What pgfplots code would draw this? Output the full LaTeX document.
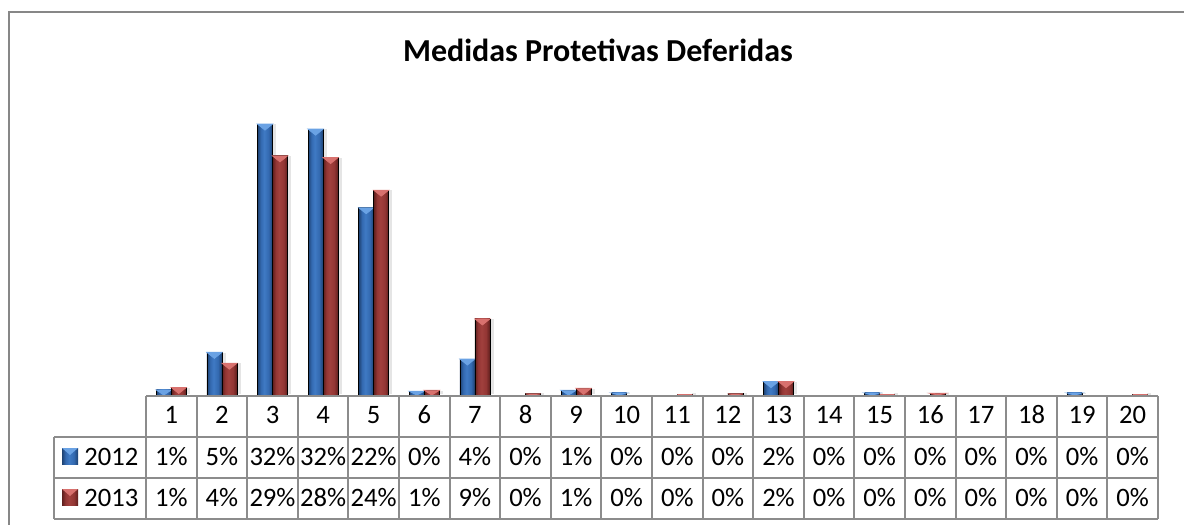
\documentclass[border=0pt]{standalone}
\usepackage{fontspec}
\setmainfont{Carlito}
\usepackage{pgfplots}
\usepackage{pgfplotstable}
\pgfplotsset{compat=1.18}

\definecolor{bdark}{HTML}{1E4272}
\definecolor{bmid}{HTML}{3369B0}
\definecolor{blite}{HTML}{3F7AC4}
\definecolor{btri}{HTML}{6AA2E4}
\definecolor{rdark}{HTML}{5E1F1D}
\definecolor{rmid}{HTML}{933634}
\definecolor{rlite}{HTML}{A1403D}
\definecolor{rtri}{HTML}{D8716E}
\definecolor{gridgray}{HTML}{8C8C8C}
\definecolor{framegray}{HTML}{878787}

\pgfdeclarehorizontalshading{bluebar}{100bp}{color(0bp)=(bdark); color(25bp)=(bdark); color(36bp)=(bmid); color(47bp)=(blite); color(62bp)=(bmid); color(75bp)=(bdark); color(100bp)=(bdark)}
\pgfdeclarehorizontalshading{redbar}{100bp}{color(0bp)=(rdark); color(25bp)=(rdark); color(36bp)=(rmid); color(47bp)=(rlite); color(62bp)=(rmid); color(75bp)=(rdark); color(100bp)=(rdark)}

\pgfplotstableread{
x  a     b
1  0.6   0.9
2  5.1   3.8
3  32.4  28.6
4  31.8  28.4
5  22.4  24.5
6  0.45  0.56
7  4.3   9.1
8  0     0.15
9  0.56  0.8
10 0.24  0
11 0     0.05
12 0     0.15
13 1.6   1.6
14 0     0
15 0.24  0.05
16 0     0.2
17 0     0
18 0     0
19 0.24  0
20 0     0.05
}\datatable

% draws one shaded bar (pt units) below the current data point
% #1 shading, #2 triangle colour, #3 left offset, #4 right offset
\newcommand\drawbar[4]{%
  \pgfmathsetmacro\h{\ry*4.180556}%
  \ifdim\h pt>0.05pt
    \pgfmathsetmacro\th{min(3,\h)}%
    \fill[black!10] ({#4},-0.3pt) rectangle ({#4+1.5pt},-\h pt+1pt);
    \shade[shading=#1] (#3,0pt) rectangle (#4,-\h pt);
    \fill[#2] (#3,0pt) -- (#4,0pt) -- ({(#3+#4)/2},-\th pt) -- cycle;
  \fi}

\begin{document}
\begin{tikzpicture}
\begin{scope}[x=0.5pt,y=-0.5pt]
\useasboundingbox (0,0) rectangle (1184,525);
\fill[white] (0,0) rectangle (1184,525);
\draw[framegray,line width=1pt] (8.5,525) -- (8.5,11.5) -- (1184,11.5);
\node[anchor=base,font=\fontsize{16}{19}\selectfont\bfseries] at (598,61) {Medidas Protetivas Deferidas};
\end{scope}

\begin{axis}[
  at={(73pt,-197.5pt)}, anchor=south west,
  scale only axis, width=506pt, height=150.5pt,
  xmin=0.5, xmax=20.5, ymin=0, ymax=36,
  hide axis, clip=false,
]
\addplot[scatter, only marks, mark=*, mark size=0pt, point meta=y,
  visualization depends on={rawy \as \ry},
  scatter/@pre marker code/.code={\drawbar{bluebar}{btri}{-7.5pt}{0pt}},
  scatter/@post marker code/.code={}]
  table[x=x,y=a] {\datatable};
\addplot[scatter, only marks, mark=*, mark size=0pt, point meta=y,
  visualization depends on={rawy \as \ry},
  scatter/@pre marker code/.code={\drawbar{redbar}{rtri}{0pt}{7.5pt}},
  scatter/@post marker code/.code={}]
  table[x=x,y=b] {\datatable};
\end{axis}

\begin{scope}[x=0.5pt,y=-0.5pt,font=\fontsize{13.3}{15}\selectfont]
% grid
\draw[gridgray,line width=1pt] (146,396) -- (1158,396);
\draw[gridgray,line width=1pt] (54,437) -- (1158,437);
\draw[gridgray,line width=1pt] (54,478) -- (1158,478);
\draw[gridgray,line width=1pt] (54,519) -- (1158,519);
\draw[gridgray,line width=1pt] (54,437) -- (54,519);
\foreach \i in {0,...,20} \draw[gridgray,line width=1pt] (146+\i*50.6,396) -- (146+\i*50.6,519);
% header
\foreach \i in {1,...,20} \node[anchor=base,inner sep=0pt] at (146+\i*50.6-25.3,423) {\i};
% row labels
\shade[shading=bluebar] (62,448) rectangle (78,464);
\fill[btri] (62,448) -- (78,448) -- (70,455) -- cycle;
\node[anchor=base west,inner sep=0pt] at (84,465) {2012};
\shade[shading=redbar] (62,489) rectangle (78,505);
\fill[rtri] (62,489) -- (78,489) -- (70,496) -- cycle;
\node[anchor=base west,inner sep=0pt] at (84,506) {2013};
% values
\foreach \v [count=\i] in {1,5,32,32,22,0,4,0,1,0,0,0,2,0,0,0,0,0,0,0}
  \node[anchor=base,inner sep=0pt] at (146+\i*50.6-25.3,465) {\v\%};
\foreach \v [count=\i] in {1,4,29,28,24,1,9,0,1,0,0,0,2,0,0,0,0,0,0,0}
  \node[anchor=base,inner sep=0pt] at (146+\i*50.6-25.3,506) {\v\%};
\end{scope}
\end{tikzpicture}
\end{document}
